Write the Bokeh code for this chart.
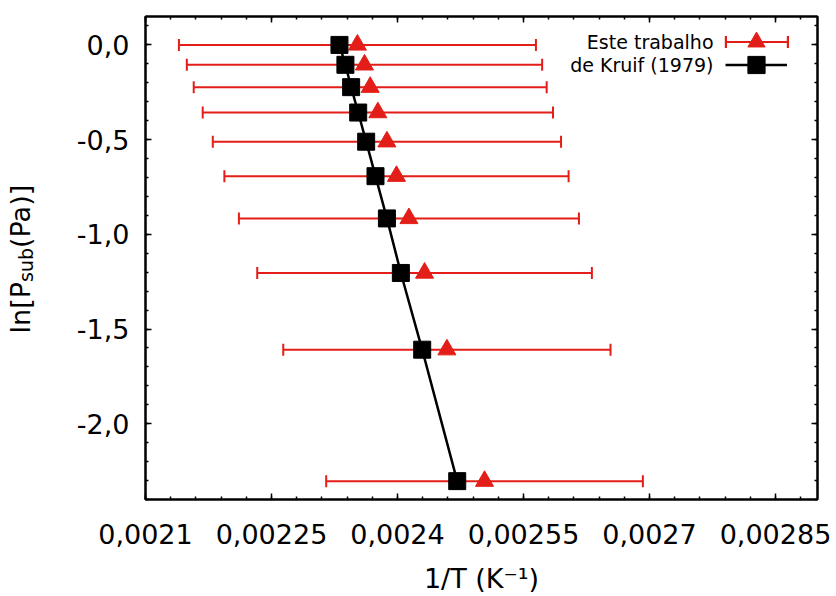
import math
from bokeh.plotting import figure
from bokeh.layouts import row
from bokeh.models import (Range1d, LinearAxis, SingleIntervalTicker, CustomJSTickFormatter,
                          Legend, LegendItem, Label)
from bokeh.embed import file_html
from bokeh.resources import INLINE

# ---- data ----
ln_psub = [0.0, -0.105, -0.223, -0.357, -0.511, -0.693, -0.916, -1.204, -1.609, -2.303]
inv_t_este = [0.0023523, 0.0023607, 0.0023675, 0.0023766, 0.0023874,
              0.0023988, 0.0024136, 0.0024322, 0.0024588, 0.0025036]
err_este = [0.0002125, 0.0002115, 0.0002101, 0.0002085, 0.0002073,
            0.0002049, 0.0002024, 0.0001992, 0.0001948, 0.0001885]
inv_t_kruif = [0.0023309, 0.0023380, 0.0023448, 0.0023532, 0.0023627,
               0.0023738, 0.0023874, 0.0024040, 0.0024294, 0.0024711]

x_ticks = [0.0021, 0.00225, 0.0024, 0.00255, 0.0027, 0.00285]
x_tick_labels = ["0,0021", "0,00225", "0,0024", "0,00255", "0,0027", "0,00285"]
y_ticks = [0.0, -0.5, -1.0, -1.5, -2.0]
y_tick_labels = ["0,0", "-0,5", "-1,0", "-1,5", "-2,0"]

legend_labels = ["Este trabalho", "de Kruif (1979)"]
x_title = "1/T (K\u207b\u00b9)"
y_title_parts = ["ln[P", "sub", "(Pa)]"]

RED = "#e31e18"
FONT = "DejaVu Sans"
LAB_W = 60          # width of the strip holding the y title
H = 596

p = figure(width=836 - LAB_W, height=H, output_backend="svg", toolbar_location=None,
           x_range=Range1d(0.0021, 0.0029), y_range=Range1d(-2.4, 0.15),
           min_border_left=145 - LAB_W, min_border_right=19, min_border_top=16,
           min_border_bottom=97)
p.background_fill_color = "white"
p.border_fill_color = "white"
p.grid.visible = False
p.outline_line_color = "black"
p.outline_line_width = 2

lookup_code = """
let best = 0;
for (let i = 0; i < tvals.length; i++) {
  if (Math.abs(tvals[i] - tick) < Math.abs(tvals[best] - tick)) best = i;
}
return tlabels[best];
"""

xfmt = CustomJSTickFormatter(args=dict(tvals=x_ticks, tlabels=x_tick_labels), code=lookup_code)
yfmt = CustomJSTickFormatter(args=dict(tvals=y_ticks, tlabels=y_tick_labels), code=lookup_code)

def style_axis(ax, show_labels):
    ax.axis_line_width = 2
    ax.axis_line_color = "black"
    ax.major_tick_in = 6
    ax.major_tick_out = 0
    ax.minor_tick_in = 3
    ax.minor_tick_out = 0
    ax.major_tick_line_width = 1.5
    ax.minor_tick_line_width = 1.5
    ax.major_tick_line_color = "black"
    ax.minor_tick_line_color = "black"
    if show_labels:
        ax.major_label_text_font = FONT
        ax.major_label_text_font_size = "27px"
        ax.major_label_text_color = "black"
    else:
        ax.major_label_text_font_size = "0px"
        ax.major_label_text_color = None
        ax.major_label_standoff = 0

xa = p.xaxis[0]
xa.ticker = SingleIntervalTicker(interval=0.00015, num_minor_ticks=5)
xa.formatter = xfmt
style_axis(xa, True)
xa.major_label_standoff = 24
xa.axis_label = x_title
xa.axis_label_text_font = FONT
xa.axis_label_text_font_size = "27px"
xa.axis_label_text_font_style = "normal"
xa.axis_label_text_color = "black"
xa.axis_label_standoff = 16

ya = p.yaxis[0]
ya.ticker = SingleIntervalTicker(interval=0.5, num_minor_ticks=5)
ya.formatter = yfmt
style_axis(ya, True)
ya.major_label_standoff = 16

top = LinearAxis(ticker=SingleIntervalTicker(interval=0.00015, num_minor_ticks=5), formatter=xfmt)
style_axis(top, False)
p.add_layout(top, "above")
right = LinearAxis(ticker=SingleIntervalTicker(interval=0.5, num_minor_ticks=5), formatter=yfmt)
style_axis(right, False)
p.add_layout(right, "right")

# ---- glyphs ----
lo = [x - e for x, e in zip(inv_t_este, err_este)]
hi = [x + e for x, e in zip(inv_t_este, err_este)]

bars = p.segment(x0=lo, x1=hi, y0=ln_psub, y1=ln_psub, line_color=RED, line_width=2)
caps = p.rect(x=lo + hi, y=ln_psub + ln_psub, width=2, height=12,
              width_units="screen", height_units="screen",
              fill_color=RED, line_color=None)
tri = p.scatter(x=inv_t_este, y=ln_psub, marker="triangle", size=18,
                fill_color=RED, line_color=RED)
kline = p.line(x=inv_t_kruif, y=ln_psub, line_color="black", line_width=2.5)
sq = p.scatter(x=inv_t_kruif, y=ln_psub, marker="square", size=17,
               fill_color="black", line_color="black")

# ---- legend (glyphs on the right, text on the left like the reference) ----
frame_left, frame_bottom = 145.0, 499.0

def add_legend(rends, left, cy, w, h):
    p.add_layout(Legend(items=[LegendItem(label=" ", renderers=rends, index=0)],
                        location=(left - frame_left, frame_bottom - cy - h / 2),
                        glyph_width=w, glyph_height=h, label_height=h,
                        label_text_font_size="1px", label_width=1, label_standoff=0,
                        padding=0, margin=0, spacing=0,
                        border_line_color=None, background_fill_alpha=0))

leg_h = 43
for i, rends in enumerate([[bars, tri], [kline, sq]]):
    cy = 41.7 + i * 22.6
    add_legend(rends, 725, cy, 62, leg_h)
    p.add_layout(Label(x=713 - frame_left, y=frame_bottom - cy, x_units="screen", y_units="screen",
                       text=legend_labels[i], text_align="right", text_baseline="middle",
                       text_font=FONT, text_font_size="19px", text_color="black"))
# error-bar caps at both ends of the first legend sample
for cx in (725, 787):
    add_legend([caps], cx - 1.5, 41.7, 3, 15)

# ---- y axis title (with subscript) in a narrow strip on the left ----
t = figure(width=LAB_W, height=H, output_backend="svg", toolbar_location=None,
           x_range=Range1d(0, 1), y_range=Range1d(0, 1),
           x_axis_location=None, y_axis_location=None, min_border=0)
t.outline_line_color = None
t.grid.visible = False
t.background_fill_color = "white"
t.border_fill_color = "white"

big, small = 27, 19
w_main = (0.278 + 0.634 + 0.390 + 0.603) * big
w_sub = (0.521 + 0.634 + 0.635) * small
w_end = (0.390 + 0.603 + 0.613 + 0.390 + 0.390) * big
total = w_main + w_sub + w_end
# the strip's frame is aligned with the main frame (bottom at canvas y = 499)
center_y = frame_bottom - 258
start = center_y - total / 2
base_x = 20
t.add_layout(Label(x=base_x, y=start, x_units="screen", y_units="screen", text=y_title_parts[0],
                   angle=math.pi / 2, text_align="left", text_baseline="alphabetic",
                   text_font=FONT, text_font_size=f"{big}px", text_color="black"))
t.add_layout(Label(x=base_x + 5, y=start + w_main, x_units="screen", y_units="screen",
                   text=y_title_parts[1], angle=math.pi / 2, text_align="left",
                   text_baseline="alphabetic", text_font=FONT, text_font_size=f"{small}px",
                   text_color="black"))
t.add_layout(Label(x=base_x, y=start + w_main + w_sub, x_units="screen", y_units="screen",
                   text=y_title_parts[2], angle=math.pi / 2, text_align="left",
                   text_baseline="alphabetic", text_font=FONT, text_font_size=f"{big}px",
                   text_color="black"))

layout = row(t, p, spacing=0)
open("out.html", "w").write(file_html(layout, INLINE))
